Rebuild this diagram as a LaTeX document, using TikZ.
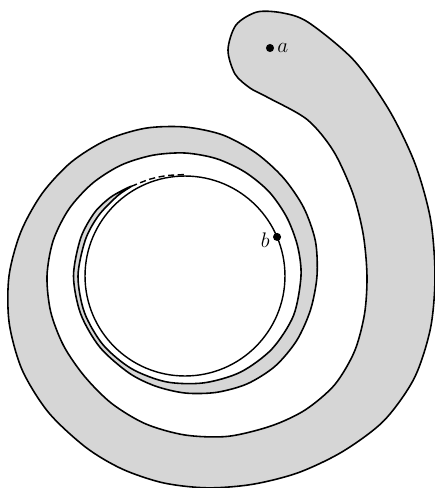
\documentclass[tikz,border=0pt]{standalone}
\usepackage{tikz}
\usepackage{amsmath}
\usetikzlibrary{positioning,calc}
\definecolor{bandcolor}{RGB}{214,214,214}

\begin{document}
\begin{tikzpicture}[x=0.02cm,y=-0.02cm,
  dot/.style={circle,fill=black,inner sep=0pt,minimum size=4.6pt},
  band/.style={draw=black,line width=0.9pt,fill=bandcolor,line join=round}]
\useasboundingbox (0,0) rectangle (434,488);
\coordinate (o) at (185,276);
\begin{scope}[shift={(o)}]
% shaded strip: round end near a, outer edge inwards, inner edge back
\draw[band] plot[smooth cycle] coordinates {
  (82,-179) (65,-188) (50,-202) (43,-226) (51,-251) (72,-264) (98,-263)
  (-64:282) (-52:274) (-39:263) (-26:256) (-13:252) (0:250) (12:251)
  (24:251) (36:246) (48:236) (60:227) (72:219) (84:213) (96:208)
  (108:203) (120:198) (135:193) (150:188) (165:182) (180:176) (195:170)
  (210:165) (225:161) (240:157) (255:153) (270:149) (285:146) (300:142)
  (315:139) (330:137) (345:135) (360:132) (375:130) (390:129) (405:127.5)
  (420:124.5) (435:120.5) (450:117) (465:114) (480:112) (500:111)
  (520:111) (540:111.5) (560:111) (575:110.5) (586:108.5) (594:106)
  (599:104.5)
  (590:104.8) (575:105.5) (560:106) (540:107) (520:107) (500:107)
  (480:107) (460:107.5) (440:108.5) (420:111) (400:113.5) (380:115.5)
  (360:116) (345:116.5) (330:117.5) (315:119) (300:120) (285:121.5)
  (270:123) (255:125) (240:128) (225:131) (210:134) (195:136.5)
  (180:138) (165:139) (150:140) (135:142) (120:147) (105:153)
  (90:159) (75:166) (60:173) (48:180) (36:185) (24:185.5) (12:183.5)
  (0:182) (-13:183) (-26:187) (-40:194) (-52:198.5)};
% strip goes on
\draw[line width=0.8pt,dash pattern=on 3.5pt off 2pt]
  plot[smooth] coordinates {(599:104.5) (610:103) (620:102) (631:101.5)};
\end{scope}
\draw[line width=0.8pt] (o) circle[radius=2cm];
\node[dot,label={[inner sep=1.5pt,font=\large]right:$a$}] (a) at (270,48) {};
\node[dot,label={[inner sep=1.5pt,yshift=-2pt,font=\large]left:$b$}] (b)
  at ($(o)+(-23:100)$) {};
\end{tikzpicture}
\end{document}
